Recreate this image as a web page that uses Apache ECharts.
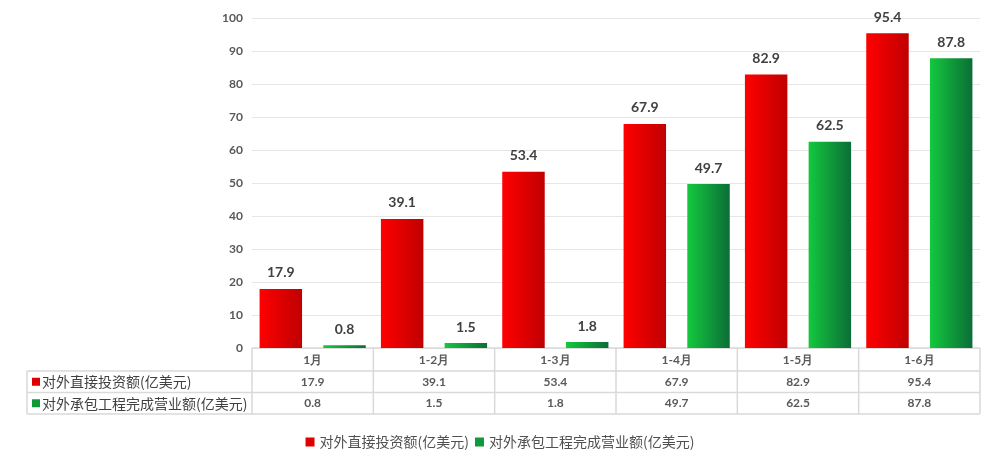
<!DOCTYPE html>
<html>
<head>
<meta charset="utf-8">
<script src="https://cdn.jsdelivr.net/npm/echarts@6/dist/echarts.min.js"></script>
<style>
  html, body { margin: 0; padding: 0; background: #fff; }
  #chart { width: 1000px; height: 468px; }
</style>
</head>
<body>
<div id="chart"></div>
<script>
var categories = ['1月', '1-2月', '1-3月', '1-4月', '1-5月', '1-6月'];
var seriesNames = ['对外直接投资额(亿美元)', '对外承包工程完成营业额(亿美元)'];
var investData = [17.9, 39.1, 53.4, 67.9, 82.9, 95.4];
var contractData = [0.8, 1.5, 1.8, 49.7, 62.5, 87.8];
var yTicks = [0, 10, 20, 30, 40, 50, 60, 70, 80, 90, 100];

var numFont = 'Lato, "Noto Sans", sans-serif';
var cjkFont = '"Noto Sans CJK SC", sans-serif';
var tableLine = '#d9d9d9';

function grad(c1, c2) {
  return new echarts.graphic.LinearGradient(0, 0, 1, 0, [
    { offset: 0, color: c1 },
    { offset: 1, color: c2 }
  ]);
}
var redFill = grad('#ff0000', '#c00000');
var greenFill = grad('#14c83e', '#0b6e37');

var myChart = echarts.init(document.getElementById('chart'));

myChart.setOption({
  animation: false,
  grid: { left: 252, right: 20, top: 18, bottom: 120 },
  legend: {
    bottom: 14,
    left: 'center',
    itemWidth: 9,
    itemHeight: 9,
    itemGap: 6,
    icon: 'rect',
    textStyle: { fontFamily: cjkFont, fontSize: 14, color: '#505050' },
    data: [
      { name: seriesNames[0], itemStyle: { color: '#e00000' } },
      { name: seriesNames[1], itemStyle: { color: '#0f9a3a' } }
    ]
  },
  xAxis: {
    type: 'category',
    data: categories,
    axisLine: { show: false },
    axisTick: { show: false },
    axisLabel: {
      margin: 6,
      fontFamily: numFont,
      fontSize: 12,
      fontWeight: 'bold',
      color: '#595959'
    }
  },
  yAxis: {
    type: 'value',
    min: yTicks[0],
    max: yTicks[yTicks.length - 1],
    interval: 10,
    axisLine: { show: false },
    axisTick: { show: false },
    splitLine: { lineStyle: { color: '#e6e6e6' } },
    axisLabel: {
      margin: 9,
      fontFamily: numFont,
      fontSize: 12,
      fontWeight: 'bold',
      color: '#595959'
    }
  },
  series: [
    {
      name: seriesNames[0],
      type: 'bar',
      data: investData,
      barWidth: '35%',
      barGap: '50%',
      itemStyle: { color: redFill },
      label: {
        show: true, position: 'top', distance: 9,
        fontFamily: numFont, fontSize: 14, fontWeight: 'bold', color: '#404040'
      }
    },
    {
      name: seriesNames[1],
      type: 'bar',
      data: contractData,
      barWidth: '35%',
      itemStyle: { color: greenFill },
      label: {
        show: true, position: 'top', distance: 9,
        fontFamily: numFont, fontSize: 14, fontWeight: 'bold', color: '#404040'
      }
    }
  ]
});

// data table under the x axis
function buildTable() {
  var y0 = myChart.convertToPixel({ yAxisIndex: 0 }, 0);
  var rowH = 21.5;
  var headH = 23;
  var tableLeft = 27;
  var step = myChart.convertToPixel({ xAxisIndex: 0 }, categories[1]) -
             myChart.convertToPixel({ xAxisIndex: 0 }, categories[0]);
  var firstX = myChart.convertToPixel({ xAxisIndex: 0 }, categories[0]) - step / 2;
  var lastX = firstX + step * categories.length;
  var rows = [investData, contractData];
  var colors = ['#e00000', '#0f9a3a'];
  var els = [];
  var lineStyle = { stroke: tableLine, lineWidth: 1.5 };

  // horizontal lines
  els.push({ type: 'line', shape: { x1: firstX, y1: y0, x2: lastX, y2: y0 }, style: lineStyle, silent: true });
  for (var r = 0; r <= rows.length; r++) {
    var yy = y0 + headH + r * rowH;
    els.push({ type: 'line', shape: { x1: tableLeft, y1: yy, x2: lastX, y2: yy }, style: lineStyle, silent: true });
  }
  var yEnd = y0 + headH + rows.length * rowH;
  // vertical lines
  els.push({ type: 'line', shape: { x1: tableLeft, y1: y0 + headH, x2: tableLeft, y2: yEnd }, style: lineStyle, silent: true });
  for (var c = 0; c <= categories.length; c++) {
    var xx = firstX + c * step;
    els.push({ type: 'line', shape: { x1: xx, y1: y0, x2: xx, y2: yEnd }, style: lineStyle, silent: true });
  }
  // rows
  rows.forEach(function (vals, ri) {
    var cy = y0 + headH + ri * rowH + rowH / 2;
    els.push({ type: 'rect', shape: { x: tableLeft + 5, y: cy - 4, width: 8, height: 8 }, style: { fill: colors[ri] }, silent: true });
    els.push({
      type: 'text', x: tableLeft + 15, y: cy, silent: true,
      style: { text: seriesNames[ri], fontFamily: cjkFont, fontSize: 14, fill: '#404040', verticalAlign: 'middle', align: 'left' }
    });
    vals.forEach(function (v, ci) {
      els.push({
        type: 'text', x: myChart.convertToPixel({ xAxisIndex: 0 }, categories[ci]), y: cy, silent: true,
        style: { text: String(v), fontFamily: numFont, fontSize: 12, fontWeight: 'bold', fill: '#595959', verticalAlign: 'middle', align: 'center' }
      });
    });
  });
  myChart.setOption({ graphic: els });
}
buildTable();
</script>
</body>
</html>
